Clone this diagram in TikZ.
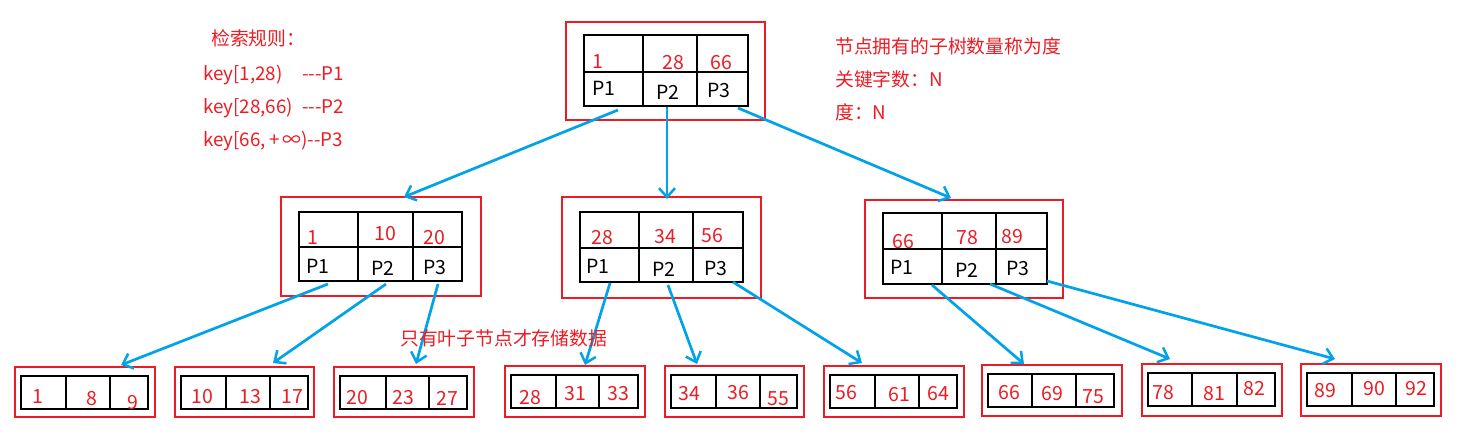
\documentclass[tikz,border=0pt]{standalone}
\usepackage{fontspec}
\setmainfont{Noto Sans CJK SC}
\usetikzlibrary{arrows.meta,fit}
\definecolor{pred}{HTML}{ED1C24}
\definecolor{pblue}{HTML}{00A2E8}
\tikzset{
  redbox/.style={draw=pred,line width=2.9pt,inner sep=0pt},
  tbl/.style={draw=black,line width=2.9pt},
  arr/.style={draw=pblue,line width=2.7pt,-{Straight Barb[length=9pt,width=16pt,line width=2.5pt]}},
  num/.style={text=pred,font=\fontsize{19.5}{21}\selectfont,inner sep=0pt},
  ptr/.style={text=black,font=\fontsize{19.5}{21}\selectfont,inner sep=0pt},
  note/.style={text=pred,font=\fontsize{18.8}{21}\selectfont,inner sep=0pt,anchor=west},
}
\begin{document}
\begin{tikzpicture}[x=1pt,y=-1pt]
\useasboundingbox[fill=white] (0,0) rectangle (1459,432);

% ---------- internal nodes ----------
\foreach \n/\rx/\ry/\rX/\rY/\bx/\by/\bX/\bY/\da/\db/\dm in {
  root/566/22/765/120/584/35/748/106/643/697/72,
  ml/281/197/481/296/299/212/462/281/358/413/247,
  mm/562/197/761/298/580/212/743/282/639/693/248,
  mr/865/200/1063/298/883/213/1047/284/942/996/249}{
  \node[redbox,fit={(\rx,\ry) (\rX,\rY)}] (\n) {};
  \draw[tbl] (\bx,\by) rectangle (\bX,\bY);
  \draw[tbl] (\da,\by) -- (\da,\bY) (\db,\by) -- (\db,\bY) (\bx,\dm) -- (\bX,\dm);
}

% texts in root
\node[num] (r1) at (598,62) {1};
\node[num] (r2) at (673,63) {28};
\node[num] (r3) at (721,63) {66};
\node[ptr] (rp1) at (604,88) {P1};
\node[ptr] (rp2) at (668,92) {P2};
\node[ptr] (rp3) at (719,90) {P3};

% texts in ml
\node[num] (l1) at (313,238) {1};
\node[num] (l2) at (385,234) {10};
\node[num] (l3) at (434,238) {20};
\node[ptr] (lp1) at (318,266) {P1};
\node[ptr] (lp2) at (383,268) {P2};
\node[ptr] (lp3) at (435,267) {P3};

% texts in mm
\node[num] (m1) at (602,238) {28};
\node[num] (m2) at (665,237) {34};
\node[num] (m3) at (712,236) {56};
\node[ptr] (mp1) at (598,266) {P1};
\node[ptr] (mp2) at (664,269) {P2};
\node[ptr] (mp3) at (716,268) {P3};

% texts in mr
\node[num] (q1) at (903,242) {66};
\node[num] (q2) at (967,238) {78};
\node[num] (q3) at (1012,237) {89};
\node[ptr] (qp1) at (902,267) {P1};
\node[ptr] (qp2) at (967,270) {P2};
\node[ptr] (qp3) at (1018,268) {P3};

% ---------- leaves ----------
\foreach \n/\rx/\ry/\rX/\rY/\bx/\by/\bX/\bY/\da/\db/\ta/\tax/\tay/\tb/\tbx/\tby/\tc/\tcx/\tcy in {
  1/15/367/155/417/21/376/148/409/66/110/1/38/397/8/92/399/9/133/403,
  2/175/367/314/417/181/376/308/409/226/270/10/202/397/13/250/397/17/292/397,
  3/334/367/474/417/340/376/467/409/386/429/20/357/398/23/403/398/27/447/398,
  4/505/366/645/417/511/375/638/408/556/599/28/530/398/31/575/394/33/618/394,
  5/665/366/804/417/671/375/797/408/716/760/34/689/394/36/738/393/55/778/399,
  6/824/366/964/417/830/375/957/408/875/919/56/846/393/61/899/395/64/938/394,
  7/982/365/1122/416/988/374/1114/407/1032/1076/66/1009/393/69/1052/394/75/1093/397,
  8/1142/364/1282/416/1148/373/1275/406/1192/1237/78/1163/393/81/1214/394/82/1254/389,
  9/1301/364/1441/416/1307/373/1434/406/1352/1396/89/1325/391/90/1374/389/92/1416/389}{
  \node[redbox,fit={(\rx,\ry) (\rX,\rY)}] (leaf\n) {};
  \draw[tbl] (\bx,\by) rectangle (\bX,\bY);
  \draw[tbl] (\da,\by) -- (\da,\bY) (\db,\by) -- (\db,\bY);
  \node[num] (leaf\n a) at (\tax,\tay) {\ta};
  \node[num] (leaf\n b) at (\tbx,\tby) {\tb};
  \node[num] (leaf\n c) at (\tcx,\tcy) {\tc};
}

% ---------- connectors ----------
\coordinate (s1) at (618,110); \coordinate (e1) at (404,197);
\coordinate (s2) at (667,107); \coordinate (e2) at (667,199);
\coordinate (s3) at (738,108); \coordinate (e3) at (951,198);
\draw[arr] (s1) -- (e1);
\draw[arr] (s2) -- (e2);
\draw[arr] (s3) -- (e3);

\coordinate (s4) at (328,284); \coordinate (e4) at (121,365);
\coordinate (s5) at (386,284); \coordinate (e5) at (273,363);
\coordinate (s6) at (438,284); \coordinate (e6) at (416,364);
\coordinate (s7) at (610,283); \coordinate (e7) at (585,365);
\coordinate (s8) at (668,285); \coordinate (e8) at (697,364);
\coordinate (s9) at (733,282); \coordinate (e9) at (862,363);
\coordinate (s10) at (932,285); \coordinate (e10) at (1024,364);
\coordinate (s11) at (990,284); \coordinate (e11) at (1170,359);
\coordinate (s12) at (1047,281); \coordinate (e12) at (1335,359);
\foreach \i in {4,...,12}{\draw[arr] (s\i) -- (e\i);}

% ---------- notes ----------
\node[note] (rule) at (211,38) {检索规则：};
\node[note] (k1) at (203,75) {\makebox[99pt][l]{key[1,28)}-{}-{}-P1};
\node[note] (k2) at (203,108) {\makebox[99pt][l]{key[28,66)}-{}-{}-P2};
\node[note] (k3) at (203,141) {key[66,\,+\,∞)-{}-P3};

\node[note] (deg) at (835,46) {节点拥有的子树数量称为度};
\node[note] (kn) at (835,79) {关键字数：N};
\node[note] (dn) at (835,112) {度：N};

\node[note] (leafnote) at (400,338) {只有叶子节点才存储数据};
\end{tikzpicture}
\end{document}
